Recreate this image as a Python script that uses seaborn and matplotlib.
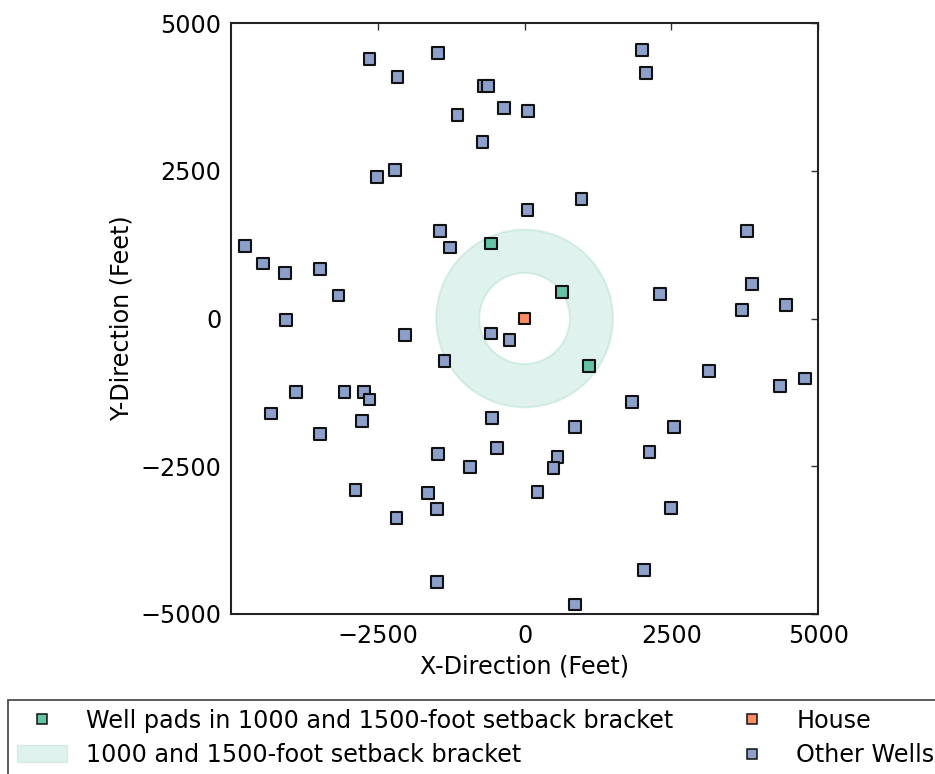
import numpy as np
import pandas as pd
import matplotlib
matplotlib.use("Agg")
import matplotlib.pyplot as plt
from matplotlib.patches import Wedge, Patch
from matplotlib.lines import Line2D
import seaborn as sns

# Well positions relative to the house (feet)
pad_x = [-573, 642, 1103]
pad_y = [1271, 451, -808]

house_x = [0]
house_y = [0]

other_x = [-2641, -2164, -1476, -699, -624, -346, 60, -1142, -716, -2515,
           -2204, 50, -1437, -1266, -4755, -4448, -4083, -3482, -3170,
           2006, 2062, 971, 3783, 3868, 2301, 3698, 4448,
           -4066, -2033, -573, -256, -1363, -3896, -3067, -2732, -2641,
           -4322, -2771, -3482, -550, -470, -1476, -925, -2880, -1641,
           -1493, -2181, -1493,
           3136, 4346, 4778, 1835, 858, 2546, 2130, 563, 494, 222, 2500,
           2028, 858]
other_y = [4390, 4095, 4492, 3942, 3942, 3570, 3510, 3446, 2983, 2400,
           2519, 1836, 1480, 1203, 1225, 932, 768, 836, 390,
           4553, 4152, 2022, 1480, 581, 412, 141, 225,
           -29, -278, -254, -362, -718, -1249, -1249, -1249, -1373,
           -1610, -1729, -1961, -1684, -2193, -2300, -2508, -2910, -2949,
           -3227, -3373, -4464,
           -893, -1147, -1017, -1419, -1837, -1837, -2261, -2345, -2525,
           -2932, -3203, -4254, -4842]

# setback bracket ring (as drawn)
ring_inner = 770
ring_outer = 1505

labels = ['Well pads in 1000 and 1500-foot setback bracket', 'House', 'Other Wells']
colors = sns.color_palette('Set2', 3)

df = pd.concat([
    pd.DataFrame({'x': pad_x, 'y': pad_y, 'kind': labels[0]}),
    pd.DataFrame({'x': house_x, 'y': house_y, 'kind': labels[1]}),
    pd.DataFrame({'x': other_x, 'y': other_y, 'kind': labels[2]}),
])

sns.set_style('white')
plt.rcParams['font.family'] = ['DejaVu Sans']
plt.rcParams['text.color'] = 'black'
plt.rcParams['axes.labelcolor'] = 'black'
plt.rcParams['xtick.color'] = 'black'
plt.rcParams['ytick.color'] = 'black'

fs = 17.2

fig = plt.figure(figsize=(9.35, 7.74), dpi=100)
ax = fig.add_axes([0.247, 0.207, 0.628, 0.763])

ring = Wedge((0, 0), ring_outer, 0, 360, width=ring_outer - ring_inner,
             facecolor=colors[0], edgecolor=colors[0], alpha=0.2, linewidth=1.5, zorder=1)
ax.add_patch(ring)

sns.scatterplot(data=df, x='x', y='y', hue='kind', hue_order=labels,
                palette=dict(zip(labels, colors)), marker='s', s=72,
                edgecolor='#111111', linewidth=1.5, legend=False, ax=ax, zorder=3)

ax.set_xlim(-5000, 5000)
ax.set_ylim(-5000, 5000)
ax.set_xticks([-2500, 0, 2500, 5000])
ax.set_yticks([-5000, -2500, 0, 2500, 5000])
ax.set_xticklabels(['\u22122500', '0', '2500', '5000'])
ax.set_yticklabels(['\u22125000', '\u22122500', '0', '2500', '5000'])
ax.tick_params(direction='in', length=5, width=1, top=True, right=True,
               labelsize=fs, pad=7, color='#333333')
for sp in ax.spines.values():
    sp.set_linewidth(1.5)
    sp.set_color('#222222')
ax.set_xlabel('X-Direction (Feet)', fontsize=fs, labelpad=5)
ax.set_ylabel('Y-Direction (Feet)', fontsize=fs, labelpad=5)

handles = [
    Line2D([], [], marker='s', linestyle='none', markerfacecolor=colors[0],
           markeredgecolor='#111111', markersize=6.5, markeredgewidth=1.1),
    Patch(facecolor=colors[0], edgecolor=colors[0], alpha=0.2),
    Line2D([], [], marker='s', linestyle='none', markerfacecolor=colors[1],
           markeredgecolor='#111111', markersize=6.5, markeredgewidth=1.1),
    Line2D([], [], marker='s', linestyle='none', markerfacecolor=colors[2],
           markeredgecolor='#111111', markersize=6.5, markeredgewidth=1.1),
]
leg_labels = ['Well pads in 1000 and 1500-foot setback bracket',
              '1000 and 1500-foot setback bracket', 'House', 'Other Wells']
leg = fig.legend(handles, leg_labels, ncol=2, loc='upper left',
                 bbox_to_anchor=(0.009, 0.095), fontsize=fs, frameon=True,
                 fancybox=False, edgecolor='#222222', columnspacing=2.25,
                 handlelength=2.1, handletextpad=0.8, borderpad=0.35,
                 borderaxespad=0, labelspacing=0.42)
leg.get_frame().set_linewidth(1.3)

fig.savefig('out.png', dpi=100)
